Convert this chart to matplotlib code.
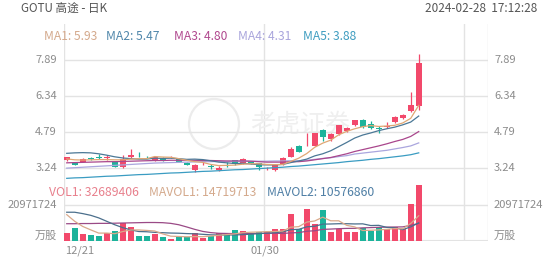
import matplotlib
matplotlib.use("Agg")
import matplotlib.pyplot as plt
from matplotlib.patches import Ellipse

plt.rcParams['font.family'] = ['Noto Sans CJK SC', 'DejaVu Sans']

# GOTU daily candles, last 45 sessions up to 2024-02-28
opens = [3.56, 3.455, 3.49, 3.64, 3.69, 3.66, 3.47, 3.27, 3.715, 3.80,
         3.71, 3.53, 3.67, 3.69, 3.60, 3.455, 3.13, 3.40, 3.29, 3.14,
         3.42, 3.57, 3.43, 3.52, 3.43, 3.21, 3.13, 3.39, 3.70, 4.18,
         4.20, 4.19, 4.87, 4.47, 4.68, 4.84, 5.08, 5.30, 5.11, 4.95,
         5.01, 5.20, 5.37, 5.70, 5.92]
highs = [3.72, 3.48, 3.66, 3.71, 3.82, 3.79, 3.49, 3.79, 4.03, 3.90,
         3.76, 3.72, 3.69, 3.76, 3.62, 3.47, 3.38, 3.47, 3.39, 3.33,
         3.50, 3.59, 3.64, 3.55, 3.45, 3.27, 3.38, 3.70, 4.15, 4.22,
         4.74, 4.75, 4.91, 4.73, 5.10, 5.00, 5.32, 5.34, 5.26, 5.04,
         5.23, 5.46, 5.57, 6.52, 8.15]
lows = [3.54, 3.34, 3.47, 3.57, 3.63, 3.59, 3.26, 3.21, 3.67, 3.72,
        3.66, 3.51, 3.54, 3.64, 3.48, 3.34, 3.04, 3.37, 3.18, 3.10,
        3.28, 3.37, 3.41, 3.38, 3.14, 3.16, 3.10, 3.37, 3.68, 3.90,
        4.16, 4.17, 4.39, 4.39, 4.66, 4.80, 5.06, 4.94, 4.92, 4.74,
        4.94, 5.18, 5.35, 5.66, 5.73]
closes = [3.69, 3.36, 3.63, 3.62, 3.67, 3.68, 3.28, 3.63, 3.79, 3.78,
          3.69, 3.70, 3.56, 3.70, 3.50, 3.36, 3.36, 3.42, 3.28, 3.24,
          3.40, 3.39, 3.615, 3.40, 3.26, 3.22, 3.36, 3.67, 4.05, 3.93,
          4.22, 4.72, 4.58, 4.68, 5.08, 4.97, 5.30, 5.01, 4.94, 4.90,
          5.04, 5.44, 5.515, 5.95, 7.77]
volumes = [4.6, 7.7, 4.2, 3.4, 3.2, 4.6, 5.9, 10.5, 8.1, 3.2,
           3.2, 4.2, 2.1, 1.4, 2.3, 2.4, 4.6, 1.9, 3.2, 4.6,
           4.5, 6.5, 5.6, 4.4, 5.4, 5.5, 6.8, 6.9, 15.8, 6.9,
           18.8, 10.1, 18.0, 5.2, 6.9, 5.5, 5.5, 7.5, 5.9, 8.1,
           6.9, 7.9, 6.9, 21.4, 32.689406]  # millions of shares

ma1 = [3.62, 3.58, 3.57, 3.58, 3.59, 3.59, 3.58, 3.58, 3.61, 3.63,
       3.63, 3.72, 3.70, 3.69, 3.63, 3.56, 3.50, 3.47, 3.38, 3.33,
       3.34, 3.35, 3.39, 3.41, 3.41, 3.38, 3.37, 3.38, 3.51, 3.65,
       3.85, 4.12, 4.30, 4.43, 4.66, 4.81, 4.92, 5.01, 5.06, 5.02,
       5.04, 5.07, 5.17, 5.37, 5.93]
ma2 = [3.86, 3.88, 3.89, 3.88, 3.84, 3.78, 3.71, 3.66, 3.63, 3.61,
       3.61, 3.65, 3.64, 3.65, 3.63, 3.60, 3.61, 3.59, 3.54, 3.48,
       3.45, 3.42, 3.43, 3.40, 3.37, 3.36, 3.36, 3.38, 3.46, 3.53,
       3.61, 3.75, 3.84, 3.97, 4.15, 4.33, 4.52, 4.65, 4.74, 4.84,
       4.92, 4.99, 5.09, 5.21, 5.47]
ma3 = [3.45, 3.46, 3.47, 3.48, 3.49, 3.50, 3.50, 3.51, 3.52, 3.53,
       3.54, 3.55, 3.55, 3.56, 3.56, 3.56, 3.56, 3.55, 3.55, 3.54,
       3.53, 3.53, 3.53, 3.52, 3.50, 3.48, 3.48, 3.48, 3.50, 3.50,
       3.53, 3.58, 3.63, 3.68, 3.76, 3.84, 3.94, 4.02, 4.10, 4.18,
       4.27, 4.37, 4.46, 4.59, 4.80]
ma4 = [3.22, 3.24, 3.26, 3.28, 3.30, 3.32, 3.34, 3.36, 3.38, 3.40,
       3.42, 3.44, 3.45, 3.46, 3.47, 3.48, 3.49, 3.50, 3.50, 3.51,
       3.51, 3.52, 3.52, 3.52, 3.52, 3.52, 3.53, 3.53, 3.54, 3.54,
       3.56, 3.60, 3.64, 3.67, 3.72, 3.76, 3.83, 3.87, 3.91, 3.95,
       3.99, 4.05, 4.11, 4.18, 4.31]
ma5 = [2.78, 2.80, 2.81, 2.83, 2.85, 2.87, 2.88, 2.90, 2.92, 2.94,
       2.95, 2.97, 2.99, 3.01, 3.02, 3.04, 3.06, 3.08, 3.09, 3.11,
       3.13, 3.15, 3.16, 3.18, 3.20, 3.22, 3.24, 3.26, 3.29, 3.31,
       3.34, 3.37, 3.40, 3.43, 3.46, 3.50, 3.53, 3.56, 3.60, 3.63,
       3.67, 3.71, 3.75, 3.80, 3.88]

mavol1 = [15.4, 11.5, 8.5, 6.5, 4.62, 4.62, 4.26, 5.52, 6.46, 6.46,
          6.18, 5.84, 4.16, 2.82, 2.64, 2.48, 2.56, 2.52, 2.88, 3.34,
          3.76, 4.14, 4.88, 5.12, 5.28, 5.48, 5.54, 5.80, 8.08, 8.38,
          11.04, 11.70, 13.92, 11.80, 11.80, 9.14, 8.22, 6.12, 6.26, 6.50,
          6.78, 7.26, 7.14, 10.24, 14.72]
mavol2 = [16.8, 16.8, 16.0, 15.0, 13.5, 11.5, 9.5, 7.8, 6.5, 5.54,
          5.40, 5.05, 4.84, 4.64, 4.55, 4.33, 4.20, 3.90, 3.60, 3.50,
          3.50, 3.55, 3.70, 4.00, 4.31, 4.62, 4.84, 5.34, 6.60, 6.83,
          8.26, 8.62, 9.86, 9.94, 10.09, 10.09, 9.96, 10.02, 9.03, 9.15,
          7.96, 7.74, 6.63, 8.25, 10.58]
mavol3 = [10.1, 10.1, 10.2, 10.2, 10.3, 10.3, 10.4, 10.5, 10.6, 10.7,
          10.8, 10.8, 10.7, 10.3, 9.5, 8.2, 6.8, 5.6, 4.9, 4.5,
          4.4, 4.3, 4.3, 4.32, 4.43, 4.48, 4.52, 4.40, 4.73, 4.91,
          5.69, 5.99, 6.78, 6.97, 7.20, 7.36, 7.40, 7.68, 7.82, 7.99,
          8.11, 8.18, 8.25, 9.10, 10.3]

price_ticks = [3.24, 4.79, 6.34, 7.89]
vol_tick = 20971724
date_labels = ['12/21', '01/30']
ma_names = ['MA1', 'MA2', 'MA3', 'MA4', 'MA5']

RED = '#f2496b'
GREEN = '#1cb39b'
GRID = '#e3e3e3'
LABEL = '#8c8c8c'
ma_colors = ['#e0a774', '#4b7896', '#a9468c', '#aaa6de', '#3a9cc2']
ma_text_colors = ['#d4a98c', '#4f86aa', '#b0488e', '#a9a5dc', '#3f9dc0']

W, H = 552, 265
fig = plt.figure(figsize=(5.52, 2.65), dpi=100)


def fx(px):
    return px / W


def fy(py):
    return 1 - py / H


ax_p = fig.add_axes([fx(64), fy(182), fx(488) - fx(64), fy(24) - fy(182)])
ax_v = fig.add_axes([fx(64), fy(241), fx(488) - fx(64), fy(182) - fy(241)])

n = len(closes)
x = list(range(n))
grid_x = [-0.34, 24.66, 49.66, 52.66]

for ax in (ax_p, ax_v):
    ax.set_xlim(-0.34, 52.66)
    for s in ax.spines.values():
        s.set_visible(False)
    ax.set_xticks([])
    ax.set_yticks([])
    for gx in grid_x:
        ax.axvline(gx, color=GRID, lw=1, zorder=0)

ax_p.set_ylim(2.622, 9.444)
ax_v.set_ylim(0, 34.46)

# watermark
ax_p.add_patch(Ellipse((fx(214), fy(124)), 50 / W, 50 / H, transform=fig.transFigure,
                       fill=False, ec='#ececec', lw=1.6, zorder=0))
ax_p.text(fx(300), fy(124), '老虎证券', transform=fig.transFigure, fontsize=18,
          color='#efefef', ha='center', va='center', style='italic', zorder=0)

for v in price_ticks:
    ax_p.axhline(v, color=GRID, lw=1, zorder=0)
ax_v.axhline(vol_tick / 1e6, color=GRID, lw=1, zorder=0)
ax_v.axhline(0, color=GRID, lw=1.5, zorder=0)

colors = [RED if c >= o else GREEN for o, c in zip(opens, closes)]
bottoms = [min(o, c) for o, c in zip(opens, closes)]
heights = [max(abs(c - o), 0.015) for o, c in zip(opens, closes)]

ax_p.vlines(x, lows, highs, colors=colors, lw=0.9, zorder=2)
ax_p.bar(x, heights, bottom=bottoms, width=0.72, color=colors, zorder=3)

for vals, col in zip([ma5, ma4, ma3, ma2, ma1], ma_colors[::-1]):
    ax_p.plot(x, vals, color=col, lw=0.9, zorder=4)

ax_v.bar(x, volumes, width=0.75, color=colors, zorder=2)
for vals, col in zip([mavol3, mavol2, mavol1], ['#9a4a86', '#4b6f8c', '#d9a98a']):
    ax_v.plot(x, vals, color=col, lw=0.9, zorder=3)

# axis labels
for v in price_ticks:
    yy = ax_p.transData.transform((0, v))[1] / H
    fig.text(fx(57), yy, f'{v:.2f}', ha='right', va='center', fontsize=8, color=LABEL)
    fig.text(fx(494), yy, f'{v:.2f}', ha='left', va='center', fontsize=8, color=LABEL)
yv = ax_v.transData.transform((0, vol_tick / 1e6))[1] / H
for xx, ha in [(57, 'right'), (494, 'left')]:
    fig.text(fx(xx), yv, str(vol_tick), ha=ha, va='center', fontsize=8, color=LABEL)
    fig.text(fx(xx), fy(236), '万股', ha=ha, va='center', fontsize=8, color=LABEL)

fig.text(fx(65), fy(251), date_labels[0], ha='left', va='center', fontsize=8, color=LABEL)
fig.text(fx(265), fy(251), date_labels[1], ha='center', va='center', fontsize=8, color=LABEL)

# header
fig.text(fx(21), fy(8), 'GOTU 高途 - 日K', ha='left', va='center', fontsize=8.4, color='#555555')
fig.text(fx(537), fy(8), '2024-02-28  17:12:28', ha='right', va='center', fontsize=8.5, color='#555555')

# MA legend
ma_last = [ma1[-1], ma2[-1], ma3[-1], ma4[-1], ma5[-1]]
for name, val, col, px in zip(ma_names, ma_last, ma_text_colors, [44, 106, 174, 238, 303]):
    fig.text(fx(px), fy(36), f'{name}: {val:.2f}', ha='left', va='center', fontsize=8.7, color=col)

# volume legend
vol_items = [('VOL1', round(volumes[-1] * 1e6), '#e8808d', 49),
             ('MAVOL1', 14719713, '#d4a98c', 149),
             ('MAVOL2', 10576860, '#4f7fa5', 267)]
for name, val, col, px in vol_items:
    fig.text(fx(px), fy(192), f'{name}: {val}', ha='left', va='center', fontsize=8.8, color=col)

fig.savefig('out.png', dpi=100)
